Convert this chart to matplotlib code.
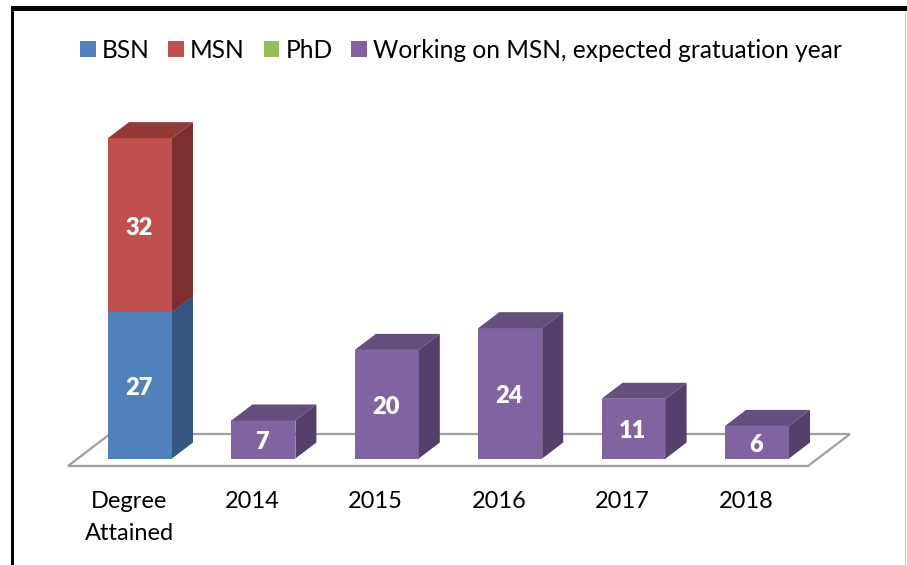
from matplotlib import pyplot as plt
from matplotlib.patches import Polygon, Patch, Rectangle

categories = ['Degree\nAttained', '2014', '2015', '2016', '2017', '2018']
bsn = [27, 0, 0, 0, 0, 0]
msn = [32, 0, 0, 0, 0, 0]
phd = [0, 0, 0, 0, 0, 0]
working = [0, 7, 20, 24, 11, 6]
legend_names = ['BSN', 'MSN', 'PhD', 'Working on MSN, expected gratuation year']

blue = ['#4F81BD', '#3A5F8B', '#335682']
red = ['#C0504D', '#943937', '#7C2F2D']
green = ['#9BBB59', '#758E43', '#667B3A']
purple = ['#8064A2', '#634E7D', '#553F6B']

plt.rcParams['font.family'] = ['Lato', 'DejaVu Sans']

W, H = 907, 565
fig = plt.figure(figsize=(W / 100, H / 100), dpi=100)
ax = fig.add_axes([0, 0, 1, 1])

# one category = 123.4 px, one unit = 5.43 px, first bar centre at px 140, base at px 458.5
xstep = 123.4
ystep = 5.43
ax.set_xlim(-140 / xstep, (W - 140) / xstep)
ax.set_ylim((458.5 - H) / ystep, 458.5 / ystep)
ax.axis('off')

bar_w = 64 / xstep
dx = 21 / xstep
dy = 16 / ystep


def box(x, bottom, height, colors, z):
    l = x - bar_w / 2
    r = x + bar_w / 2
    t = bottom + height
    ax.add_patch(Polygon([(l, bottom), (r, bottom), (r, t), (l, t)], fc=colors[0], ec='none', zorder=z))
    ax.add_patch(Polygon([(l, t), (r, t), (r + dx, t + dy), (l + dx, t + dy)], fc=colors[1], ec='none', zorder=z))
    ax.add_patch(Polygon([(r, bottom), (r + dx, bottom + dy), (r + dx, t + dy), (r, t)], fc=colors[2], ec='none', zorder=z))


# floor
fl = -72 / xstep
fr = 668 / xstep
fy = -7.5 / ystep
fdx = 42 / xstep
fdy = 32 / ystep
ax.add_patch(Polygon([(fl, fy), (fr, fy), (fr + fdx, fy + fdy), (fl + fdx, fy + fdy)], closed=True,
                     fc='white', ec='#A0A0A0', lw=1.6, zorder=1))

for i in range(len(categories)):
    bottom = 0
    for values, colors in [(bsn, blue), (msn, red), (phd, green), (working, purple)]:
        v = values[i]
        if v > 0:
            box(i, bottom, v, colors, 2 + bottom * 0.01)
            ax.text(i - 1 / xstep, bottom + v / 2 - 2.5 / ystep, str(v), color='white', fontsize=17, fontweight='heavy',
                    ha='center', va='center', zorder=5)
            bottom += v

# category labels sit under the middle of the floor, not the bars
for i, name in enumerate(categories):
    ax.text(i - 11 / xstep, -32.5 / ystep, name, fontsize=17, ha='center', va='top',
            linespacing=1.62, color='black', zorder=5)

handles = [Patch(fc=c[0], ec='none') for c in (blue, red, green, purple)]
ax.legend(handles, legend_names, ncol=4, frameon=False, loc='upper left', bbox_to_anchor=(80 / W, 1 - 39 / H),
          bbox_transform=fig.transFigure, fontsize=17.65, handlelength=0.64, handleheight=0.64,
          handletextpad=0.25, columnspacing=0.76, borderpad=0, borderaxespad=0, labelcolor='black')

# picture frame
for x0, y0, w, h, c in [(11, 6, W - 11, 5, 'black'), (11, 6, 3, H - 6, 'black'), (904.5, 11, 1.5, H - 11, '#C8C8C8')]:
    fig.add_artist(Rectangle((x0 / W, 1 - (y0 + h) / H), w / W, h / H, transform=fig.transFigure, fc=c, ec='none'))

fig.savefig('out.png', dpi=100)
